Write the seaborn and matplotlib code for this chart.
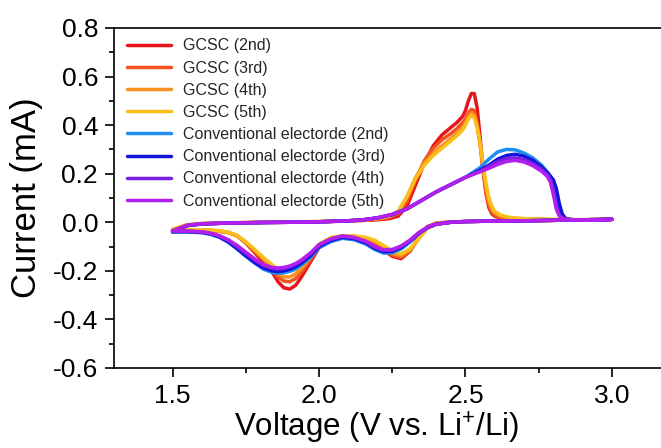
import pandas as pd
import matplotlib
matplotlib.use("Agg")
import matplotlib.pyplot as plt
from matplotlib.ticker import MultipleLocator
import seaborn as sns

# voltage grids (V vs. Li+/Li)
v_gcsc_up = [1.50, 1.55, 1.60, 1.70, 1.80, 1.90, 2.00, 2.10, 2.20, 2.24, 2.27, 2.30,
             2.33, 2.36, 2.39, 2.42, 2.45, 2.47, 2.49, 2.50, 2.51, 2.52, 2.53, 2.54,
             2.55, 2.56, 2.57, 2.58, 2.59, 2.60, 2.62, 2.65, 2.70, 2.80, 2.90, 3.00]
v_conv_up = [1.50, 1.55, 1.60, 1.70, 1.80, 1.90, 2.00, 2.10, 2.15, 2.20, 2.25, 2.30,
             2.35, 2.40, 2.45, 2.50, 2.55, 2.58, 2.61, 2.64, 2.67, 2.70, 2.73, 2.76,
             2.78, 2.79, 2.80, 2.81, 2.82, 2.83, 2.84, 2.85, 2.87, 2.90, 2.95, 3.00]
v_down = [3.00, 2.90, 2.80, 2.70, 2.60, 2.50, 2.45, 2.40, 2.37, 2.34, 2.31, 2.28,
          2.25, 2.22, 2.19, 2.16, 2.12, 2.08, 2.04, 2.00, 1.97, 1.94, 1.92, 1.90,
          1.88, 1.86, 1.84, 1.81, 1.78, 1.75, 1.72, 1.69, 1.66, 1.63, 1.60, 1.55, 1.50]

# current (mA), anodic sweep
gcsc2_up = [-0.035, -0.012, -0.006, -0.003, -0.001, 0.0, 0.002, 0.005, 0.01, 0.015, 0.025, 0.065,
            0.155, 0.245, 0.315, 0.36, 0.39, 0.41, 0.435, 0.46, 0.50, 0.53, 0.53, 0.47,
            0.35, 0.22, 0.12, 0.06, 0.035, 0.025, 0.018, 0.015, 0.012, 0.01, 0.01, 0.012]
gcsc3_up = [-0.033, -0.012, -0.006, -0.003, -0.001, 0.0, 0.002, 0.005, 0.012, 0.02, 0.035, 0.085,
            0.175, 0.255, 0.305, 0.34, 0.365, 0.385, 0.41, 0.425, 0.45, 0.465, 0.46, 0.41,
            0.32, 0.21, 0.125, 0.07, 0.042, 0.03, 0.02, 0.016, 0.013, 0.01, 0.01, 0.012]
gcsc4_up = [-0.03, -0.011, -0.005, -0.002, 0.0, 0.001, 0.003, 0.006, 0.014, 0.025, 0.045, 0.105,
            0.185, 0.245, 0.285, 0.315, 0.345, 0.365, 0.39, 0.41, 0.435, 0.45, 0.44, 0.395,
            0.32, 0.23, 0.145, 0.085, 0.052, 0.038, 0.024, 0.018, 0.014, 0.011, 0.01, 0.012]
gcsc5_up = [-0.028, -0.01, -0.005, -0.002, 0.0, 0.001, 0.003, 0.006, 0.014, 0.025, 0.045, 0.105,
            0.18, 0.235, 0.275, 0.305, 0.335, 0.355, 0.38, 0.40, 0.425, 0.44, 0.43, 0.39,
            0.325, 0.24, 0.16, 0.10, 0.065, 0.045, 0.03, 0.02, 0.015, 0.012, 0.011, 0.012]
conv2_up = [-0.04, -0.014, -0.007, -0.003, -0.001, 0.0, 0.002, 0.006, 0.01, 0.018, 0.032, 0.055,
            0.09, 0.125, 0.155, 0.185, 0.225, 0.26, 0.29, 0.30, 0.298, 0.285, 0.265, 0.235,
            0.205, 0.185, 0.16, 0.10, 0.045, 0.022, 0.015, 0.012, 0.01, 0.01, 0.01, 0.012]
conv3_up = [-0.038, -0.014, -0.007, -0.003, -0.001, 0.0, 0.002, 0.006, 0.01, 0.018, 0.032, 0.055,
            0.09, 0.125, 0.155, 0.185, 0.215, 0.235, 0.26, 0.275, 0.28, 0.272, 0.255, 0.228,
            0.205, 0.19, 0.175, 0.14, 0.08, 0.035, 0.018, 0.013, 0.01, 0.01, 0.01, 0.012]
conv4_up = [-0.036, -0.013, -0.006, -0.003, -0.001, 0.0, 0.002, 0.006, 0.01, 0.018, 0.032, 0.055,
            0.09, 0.125, 0.155, 0.185, 0.21, 0.23, 0.25, 0.263, 0.265, 0.258, 0.242, 0.218,
            0.195, 0.175, 0.13, 0.065, 0.03, 0.018, 0.014, 0.012, 0.01, 0.01, 0.01, 0.012]
conv5_up = [-0.035, -0.012, -0.006, -0.003, -0.001, 0.0, 0.002, 0.006, 0.01, 0.018, 0.032, 0.055,
            0.09, 0.125, 0.155, 0.185, 0.208, 0.222, 0.238, 0.25, 0.255, 0.248, 0.233, 0.21,
            0.188, 0.165, 0.115, 0.055, 0.027, 0.017, 0.013, 0.012, 0.01, 0.01, 0.01, 0.012]

# current (mA), cathodic sweep
gcsc2_down = [0.012, 0.01, 0.008, 0.006, 0.005, 0.003, 0.001, -0.004, -0.018, -0.06, -0.12, -0.15,
              -0.14, -0.115, -0.09, -0.075, -0.068, -0.065, -0.07, -0.105, -0.165, -0.225, -0.26, -0.275,
              -0.27, -0.245, -0.205, -0.165, -0.125, -0.085, -0.055, -0.042, -0.037, -0.034, -0.033, -0.033, -0.035]
gcsc3_down = [0.012, 0.01, 0.008, 0.006, 0.005, 0.003, 0.001, -0.004, -0.02, -0.065, -0.12, -0.145,
              -0.135, -0.11, -0.085, -0.07, -0.063, -0.06, -0.067, -0.1, -0.155, -0.205, -0.232, -0.245,
              -0.242, -0.225, -0.195, -0.155, -0.12, -0.085, -0.056, -0.043, -0.037, -0.034, -0.033, -0.033, -0.034]
gcsc4_down = [0.012, 0.01, 0.008, 0.006, 0.005, 0.003, 0.0, -0.006, -0.025, -0.068, -0.115, -0.138,
              -0.128, -0.1, -0.078, -0.064, -0.058, -0.057, -0.065, -0.095, -0.145, -0.19, -0.213, -0.225,
              -0.225, -0.212, -0.185, -0.15, -0.115, -0.082, -0.055, -0.042, -0.036, -0.033, -0.032, -0.032, -0.032]
gcsc5_down = [0.012, 0.01, 0.008, 0.006, 0.005, 0.003, 0.0, -0.006, -0.025, -0.068, -0.11, -0.13,
              -0.12, -0.095, -0.074, -0.062, -0.056, -0.055, -0.063, -0.09, -0.135, -0.175, -0.195, -0.202,
              -0.203, -0.195, -0.175, -0.145, -0.112, -0.08, -0.054, -0.041, -0.035, -0.032, -0.031, -0.03, -0.03]
conv2_down = [0.012, 0.01, 0.008, 0.006, 0.005, 0.003, 0.0, -0.008, -0.022, -0.048, -0.082, -0.11,
              -0.126, -0.127, -0.112, -0.09, -0.072, -0.066, -0.08, -0.105, -0.145, -0.175, -0.192, -0.202,
              -0.208, -0.21, -0.207, -0.193, -0.168, -0.14, -0.11, -0.083, -0.062, -0.05, -0.043, -0.04, -0.04]
conv3_down = [0.012, 0.01, 0.008, 0.006, 0.005, 0.003, 0.0, -0.008, -0.022, -0.046, -0.078, -0.104,
              -0.12, -0.121, -0.107, -0.085, -0.068, -0.062, -0.075, -0.1, -0.138, -0.168, -0.184, -0.194,
              -0.2, -0.203, -0.2, -0.188, -0.165, -0.138, -0.108, -0.08, -0.06, -0.048, -0.042, -0.039, -0.039]
conv4_down = [0.012, 0.01, 0.008, 0.006, 0.005, 0.003, 0.0, -0.008, -0.021, -0.045, -0.076, -0.1,
              -0.115, -0.116, -0.102, -0.08, -0.064, -0.058, -0.07, -0.095, -0.13, -0.158, -0.173, -0.183,
              -0.19, -0.193, -0.19, -0.178, -0.155, -0.128, -0.1, -0.075, -0.057, -0.046, -0.04, -0.037, -0.037]
conv5_down = [0.012, 0.01, 0.008, 0.006, 0.005, 0.003, 0.0, -0.008, -0.02, -0.043, -0.074, -0.098,
              -0.112, -0.113, -0.1, -0.078, -0.062, -0.056, -0.068, -0.092, -0.127, -0.155, -0.17, -0.18,
              -0.186, -0.188, -0.186, -0.174, -0.15, -0.123, -0.095, -0.072, -0.055, -0.045, -0.039, -0.036, -0.036]

labels = ["GCSC (2nd)", "GCSC (3rd)", "GCSC (4th)", "GCSC (5th)",
          "Conventional electorde (2nd)", "Conventional electorde (3rd)",
          "Conventional electorde (4th)", "Conventional electorde (5th)"]
colors = ["#E8141C", "#F4511E", "#F8901E", "#FBBF1A",
          "#1E8FF0", "#1414D8", "#7A1FE0", "#B31FEF"]

ups = [gcsc2_up, gcsc3_up, gcsc4_up, gcsc5_up, conv2_up, conv3_up, conv4_up, conv5_up]
downs = [gcsc2_down, gcsc3_down, gcsc4_down, gcsc5_down,
         conv2_down, conv3_down, conv4_down, conv5_down]
grids = [v_gcsc_up] * 4 + [v_conv_up] * 4

frames = []
for lab, vu, up, dn in zip(labels, grids, ups, downs):
    frames.append(pd.DataFrame({"V": vu + v_down, "I": up + dn, "series": lab}))
df = pd.concat(frames, ignore_index=True)

sns.set_style("ticks")
plt.rcParams["font.family"] = ["Liberation Sans", "DejaVu Sans"]
plt.rcParams["mathtext.default"] = "regular"

fig = plt.figure(figsize=(6.61, 4.48), dpi=100)
ax = fig.add_axes([0.1725, 0.1786, 0.864, 0.759])

sns.lineplot(data=df, x="V", y="I", hue="series", hue_order=labels,
             palette=dict(zip(labels, colors)), sort=False, estimator=None,
             lw=2.5, ax=ax)

ax.set_xlim(1.3, 3.25)
ax.set_ylim(-0.6, 0.8)
ax.xaxis.set_major_locator(MultipleLocator(0.5))
ax.xaxis.set_minor_locator(MultipleLocator(0.25))
ax.yaxis.set_major_locator(MultipleLocator(0.2))
ax.yaxis.set_minor_locator(MultipleLocator(0.1))
ax.xaxis.set_major_formatter(matplotlib.ticker.FormatStrFormatter("%.1f"))
ax.yaxis.set_major_formatter(matplotlib.ticker.FormatStrFormatter("%.1f"))
ax.tick_params(which="major", direction="out", length=6.5, width=1.2,
               labelsize=19, pad=5, color="black", labelcolor="black")
ax.tick_params(which="minor", direction="out", length=3.5, width=1.2, color="black")
for s in ax.spines.values():
    s.set_linewidth(1.2)
    s.set_color("black")

ax.set_xlabel("Voltage (V vs. Li$^{+}$/Li)", fontsize=22.5, color="black")
ax.set_ylabel("Current (mA)", fontsize=25, color="black")
ax.xaxis.set_label_coords(0.46, -0.122)
ax.yaxis.set_label_coords(-0.125, 0.5)

sns.move_legend(ax, "upper left", bbox_to_anchor=(0.005, 1.0), frameon=False,
                title=None, fontsize=11.5, handlelength=2.75, labelspacing=0.45,
                handletextpad=0.75, borderaxespad=0.25)

fig.savefig("out.png", dpi=100)
